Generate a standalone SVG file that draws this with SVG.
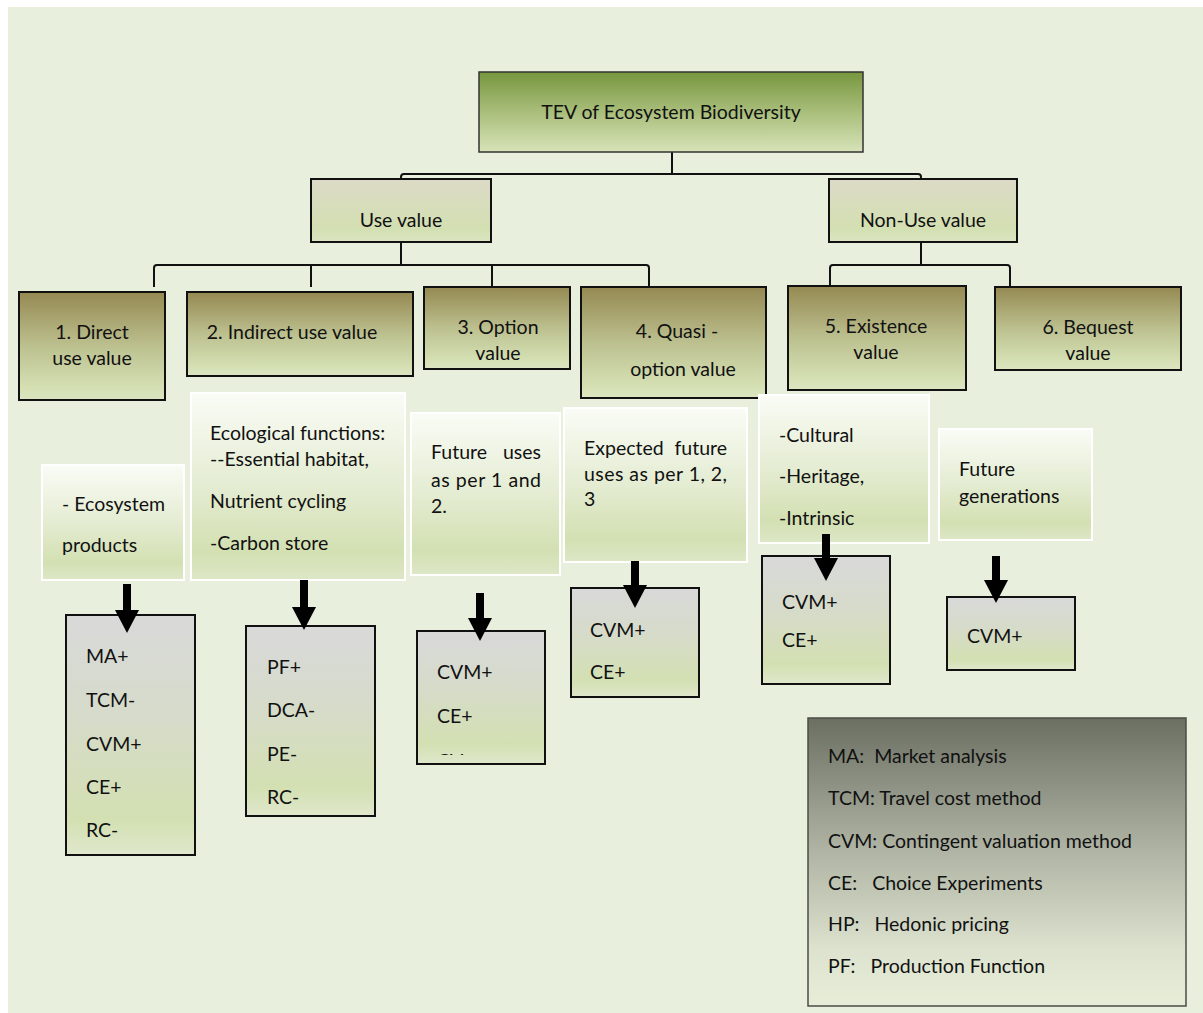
<svg xmlns="http://www.w3.org/2000/svg" width="1203" height="1013" viewBox="0 0 1203 1013">
  <defs>
    <linearGradient id="gTop" x1="0" y1="0" x2="0" y2="1">
      <stop offset="0" stop-color="#77973f"/>
      <stop offset="0.5" stop-color="#a9be7b"/>
      <stop offset="1" stop-color="#d7e3b8"/>
    </linearGradient>
    <linearGradient id="gMid" x1="0" y1="0" x2="0" y2="1">
      <stop offset="0" stop-color="#dcdac6"/>
      <stop offset="0.8" stop-color="#d3e0b2"/>
      <stop offset="1" stop-color="#dbe5c3"/>
    </linearGradient>
    <linearGradient id="gLvl" x1="0" y1="0" x2="0" y2="1">
      <stop offset="0" stop-color="#958952"/>
      <stop offset="0.5" stop-color="#bcc08f"/>
      <stop offset="0.9" stop-color="#d5e1b4"/>
      <stop offset="1" stop-color="#dbe5c2"/>
    </linearGradient>
    <linearGradient id="gDesc" x1="0" y1="0" x2="0" y2="1">
      <stop offset="0" stop-color="#fafcf6"/>
      <stop offset="0.5" stop-color="#e4ecd2"/>
      <stop offset="0.85" stop-color="#d3e0b2"/>
      <stop offset="1" stop-color="#dde7c7"/>
    </linearGradient>
    <linearGradient id="gMeth" x1="0" y1="0" x2="0" y2="1">
      <stop offset="0" stop-color="#d9d9d9"/>
      <stop offset="0.4" stop-color="#d6dbcb"/>
      <stop offset="0.85" stop-color="#d3e0b2"/>
      <stop offset="1" stop-color="#dfe8cc"/>
    </linearGradient>
    <linearGradient id="gLeg" x1="0" y1="0" x2="0" y2="1">
      <stop offset="0" stop-color="#6b6f62"/>
      <stop offset="0.4" stop-color="#a7ab9c"/>
      <stop offset="0.8" stop-color="#dce2ce"/>
      <stop offset="1" stop-color="#e7eed8"/>
    </linearGradient>
    <marker id="head" markerUnits="userSpaceOnUse" markerWidth="24" markerHeight="26" refX="0" refY="12" orient="auto" viewBox="0 0 24 24" overflow="visible">
      <path d="M0,0 L23,12 L0,24 Z" fill="#000"/>
    </marker>
    <clipPath id="clipOpt">
      <rect x="417" y="631" width="128" height="124"/>
    </clipPath>
    <style>
      .t { font-family: Lato, "Liberation Sans", sans-serif; font-size: 19.5px; fill: #111; }
      .c { text-anchor: middle; }
      .box { stroke: #111; stroke-width: 2; }
      .top { fill: url(#gTop); stroke: #333; stroke-width: 1.5; }
      .mid { fill: url(#gMid); }
      .lvl { fill: url(#gLvl); }
      .desc { fill: url(#gDesc); stroke: #ffffff; stroke-width: 2; }
      .meth { fill: url(#gMeth); }
      .leg { fill: url(#gLeg); stroke: #4a4d45; stroke-width: 1.5; }
      .wire { fill: none; stroke: #111; stroke-width: 2; }
      .arrow { stroke: #000; stroke-width: 8; marker-end: url(#head); }
    </style>
  </defs>

  <!-- page -->
  <rect x="0" y="0" width="1203" height="1013" fill="#ffffff"/>
  <rect x="8" y="7" width="1195" height="1006" fill="#e8efdc"/>

  <!-- tree connectors -->
  <g id="connectors">
    <path class="wire" d="M672,152 V174"/>
    <path class="wire" d="M401,179 V177 Q401,174 404,174 H918 Q921,174 921,177 V179"/>
    <path class="wire" d="M401,242 V265"/>
    <path class="wire" d="M154,287 V268 Q154,265 157,265 H646 Q649,265 649,268 V287"/>
    <path class="wire" d="M311,265 V287"/>
    <path class="wire" d="M492,265 V287"/>
    <path class="wire" d="M921,242 V265"/>
    <path class="wire" d="M830,286 V268 Q830,265 833,265 H1007 Q1010,265 1010,268 V287"/>
  </g>

  <!-- root -->
  <g id="tev">
    <rect class="top" x="479" y="72" width="384" height="80"/>
    <text class="t c" x="671" y="119" font-size="21">TEV of Ecosystem Biodiversity</text>
  </g>

  <!-- value groups -->
  <g id="use-value">
    <rect class="box mid" x="311" y="179" width="180" height="63"/>
    <text class="t c" x="401" y="227">Use value</text>
  </g>
  <g id="non-use-value">
    <rect class="box mid" x="829" y="179" width="188" height="63"/>
    <text class="t c" x="923" y="227">Non-Use value</text>
  </g>

  <!-- value types -->
  <g id="direct-use">
    <rect class="box lvl" x="19" y="292" width="146" height="108"/>
    <text class="t c" x="92" y="339">1. Direct</text>
    <text class="t c" x="92" y="365">use value</text>
  </g>
  <g id="indirect-use">
    <rect class="box lvl" x="187" y="292" width="226" height="84"/>
    <text class="t c" x="292" y="339">2. Indirect use value</text>
  </g>
  <g id="option">
    <rect class="box lvl" x="424" y="287" width="146" height="82"/>
    <text class="t c" x="498" y="334">3. Option</text>
    <text class="t c" x="498" y="360">value</text>
  </g>
  <g id="quasi-option">
    <rect class="box lvl" x="581" y="287" width="185" height="111"/>
    <text class="t c" x="677" y="338">4. Quasi -</text>
    <text class="t c" x="683" y="376">option value</text>
  </g>
  <g id="existence">
    <rect class="box lvl" x="788" y="286" width="178" height="104"/>
    <text class="t c" x="876" y="333">5. Existence</text>
    <text class="t c" x="876" y="359">value</text>
  </g>
  <g id="bequest">
    <rect class="box lvl" x="995" y="287" width="186" height="83"/>
    <text class="t c" x="1088" y="334">6. Bequest</text>
    <text class="t c" x="1088" y="360">value</text>
  </g>

  <!-- descriptions -->
  <g id="desc-direct">
    <rect class="desc" x="42" y="465" width="142" height="115"/>
    <text class="t" x="62" y="511">- Ecosystem</text>
    <text class="t" x="62" y="552">products</text>
  </g>
  <g id="desc-indirect">
    <rect class="desc" x="191" y="393" width="214" height="187"/>
    <text class="t" x="210" y="440">Ecological functions:</text>
    <text class="t" x="210" y="466">--Essential habitat,</text>
    <text class="t" x="210" y="508">Nutrient cycling</text>
    <text class="t" x="210" y="550">-Carbon store</text>
  </g>
  <g id="desc-option">
    <rect class="desc" x="411" y="413" width="149" height="162"/>
    <text class="t" x="431" y="459">Future</text>
    <text class="t" x="541" y="459" text-anchor="end">uses</text>
    <text class="t" x="431" y="487" textLength="110" lengthAdjust="spacing">as per 1 and</text>
    <text class="t" x="431" y="513">2.</text>
  </g>
  <g id="desc-quasi">
    <rect class="desc" x="564" y="408" width="183" height="154"/>
    <text class="t" x="584" y="455">Expected</text>
    <text class="t" x="727" y="455" text-anchor="end">future</text>
    <text class="t" x="584" y="481" textLength="143" lengthAdjust="spacing">uses as per 1, 2,</text>
    <text class="t" x="584" y="506">3</text>
  </g>
  <g id="desc-existence">
    <rect class="desc" x="759" y="395" width="170" height="148"/>
    <text class="t" x="779" y="442">-Cultural</text>
    <text class="t" x="779" y="483">-Heritage,</text>
    <text class="t" x="779" y="525">-Intrinsic</text>
  </g>
  <g id="desc-bequest">
    <rect class="desc" x="939" y="429" width="153" height="111"/>
    <text class="t" x="959" y="476">Future</text>
    <text class="t" x="959" y="503">generations</text>
  </g>

  <!-- valuation methods -->
  <g id="methods-direct">
    <rect class="box meth" x="66" y="615" width="129" height="240"/>
    <text class="t" x="86" y="663">MA+</text>
    <text class="t" x="86" y="707">TCM-</text>
    <text class="t" x="86" y="751">CVM+</text>
    <text class="t" x="86" y="794">CE+</text>
    <text class="t" x="86" y="837">RC-</text>
  </g>
  <g id="methods-indirect">
    <rect class="box meth" x="246" y="626" width="129" height="190"/>
    <text class="t" x="267" y="674">PF+</text>
    <text class="t" x="267" y="717">DCA-</text>
    <text class="t" x="267" y="761">PE-</text>
    <text class="t" x="267" y="804">RC-</text>
  </g>
  <g id="methods-option">
    <rect class="box meth" x="417" y="631" width="128" height="133"/>
    <text class="t" x="437" y="679">CVM+</text>
    <text class="t" x="437" y="723">CE+</text>
    <text class="t" x="437" y="768" clip-path="url(#clipOpt)">CV</text>
  </g>
  <g id="methods-quasi">
    <rect class="box meth" x="571" y="588" width="128" height="109"/>
    <text class="t" x="590" y="637">CVM+</text>
    <text class="t" x="590" y="679">CE+</text>
  </g>
  <g id="methods-existence">
    <rect class="box meth" x="762" y="556" width="128" height="128"/>
    <text class="t" x="782" y="609">CVM+</text>
    <text class="t" x="782" y="647">CE+</text>
  </g>
  <g id="methods-bequest">
    <rect class="box meth" x="947" y="597" width="128" height="73"/>
    <text class="t" x="967" y="643">CVM+</text>
  </g>

  <!-- arrows from descriptions to methods -->
  <g id="arrows">
    <line class="arrow" x1="127" y1="584" x2="127" y2="610"/>
    <line class="arrow" x1="304" y1="580" x2="304" y2="607"/>
    <line class="arrow" x1="480" y1="593" x2="480" y2="618"/>
    <line class="arrow" x1="635" y1="561" x2="635" y2="585"/>
    <line class="arrow" x1="826" y1="534" x2="826" y2="558"/>
    <line class="arrow" x1="996" y1="556" x2="996" y2="580"/>
  </g>

  <!-- legend -->
  <g id="legend">
    <rect class="leg" x="808" y="718" width="378" height="288"/>
    <text class="t" x="828" y="763" xml:space="preserve">MA:  Market analysis</text>
    <text class="t" x="828" y="805">TCM: Travel cost method</text>
    <text class="t" x="828" y="848">CVM: Contingent valuation method</text>
    <text class="t" x="828" y="890" xml:space="preserve">CE:   Choice Experiments</text>
    <text class="t" x="828" y="931" xml:space="preserve">HP:   Hedonic pricing</text>
    <text class="t" x="828" y="973" xml:space="preserve">PF:   Production Function</text>
  </g>
</svg>
